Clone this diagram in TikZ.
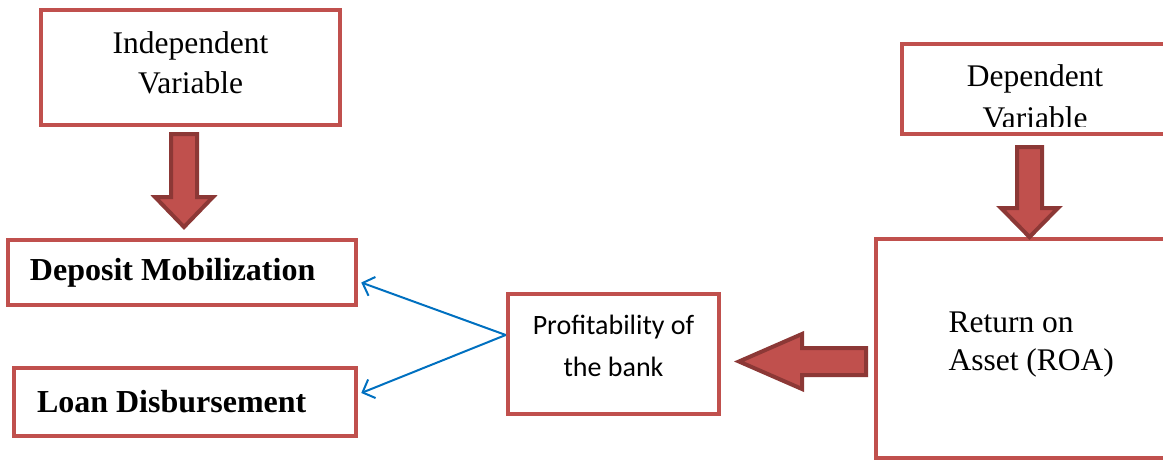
\documentclass[tikz,border=0pt]{standalone}
\usepackage{fontspec}
\usepackage{tikz}
\usetikzlibrary{arrows.meta}
\setmainfont{Liberation Serif}
\newfontfamily\calibri{Carlito}
\definecolor{boxred}{HTML}{C0504D}
\definecolor{arrowedge}{HTML}{8C3836}
\definecolor{linkblue}{HTML}{0070C0}
\tikzset{
	varbox/.style={draw=boxred, line width=4.5pt, fill=white, inner sep=0pt},
	blockarrow/.style={draw=arrowedge, fill=boxred, line width=4pt, line join=miter},
	link/.style={draw=linkblue, line width=2pt, -{Straight Barb[length=10pt,width=20pt,line width=2pt]}}
}
\begin{document}
\begin{tikzpicture}[x=1pt,y=-1pt]
			\useasboundingbox (0,0) rectangle (1163,460);
			\node[varbox, minimum width=299pt, minimum height=115pt] (indep) at (190.5,67.5) {};
			\node[align=flush center, font=\fontsize{31.5}{40}\selectfont] (indeptext) at ([yshift=5pt]indep.center) {Independent\\Variable};
			\node[varbox, minimum width=290pt, minimum height=90pt] (depvar) at (1047,89) {};
			\begin{scope}
				\clip (depvar.north west) rectangle ([yshift=10pt]depvar.south east);
				\node[align=flush center, font=\fontsize{31.5}{42}\selectfont] (deptext) at (1035,97) {Dependent\\Variable};
			\end{scope}
			\node[varbox, minimum width=348pt, minimum height=65pt, text width=304pt, align=flush left,
				font=\fontsize{32}{38}\selectfont\bfseries] (deposit) at (182,272.5) {Deposit Mobilization};
			\node[varbox, minimum width=342pt, minimum height=68pt, text width=296pt, align=flush left,
				font=\fontsize{32}{38}\selectfont\bfseries] (loan) at (185,402) {Loan Disbursement};
			\node[varbox, minimum width=211pt, minimum height=120pt] (prof) at (613.5,354) {};
			\node[align=flush center, font=\calibri\fontsize{28}{42}\selectfont] (proftext) at ([yshift=8pt]prof.center) {Profitability of\\the bank};
			\node[varbox, minimum width=320pt, minimum height=219pt] (roa) at (1036,348.5) {};
			\node[anchor=west, align=flush left, font=\fontsize{31.5}{38}\selectfont] (roatext) at (945,345) {Return on\\Asset (ROA)};
			\draw[blockarrow] (171,134)--(197,134)--(197,197)--(213,197)--(184,227)--(155,197)--(171,197)--cycle;
			\draw[blockarrow] (1017,147)--(1042,147)--(1042,208)--(1058,208)--(1029.5,237)--(1001,208)--(1017,208)--cycle;
			\draw[blockarrow] (866,348)--(866,375)--(802,375)--(802,389)--(739,361.5)--(802,334)--(802,348)--cycle;
			\draw[link] (prof.170) -- ([xshift=3pt,yshift=-10pt]deposit.east);
			\draw[link] (prof.170) -- ([xshift=3pt,yshift=9pt]loan.east);
		\end{tikzpicture}
\end{document}
